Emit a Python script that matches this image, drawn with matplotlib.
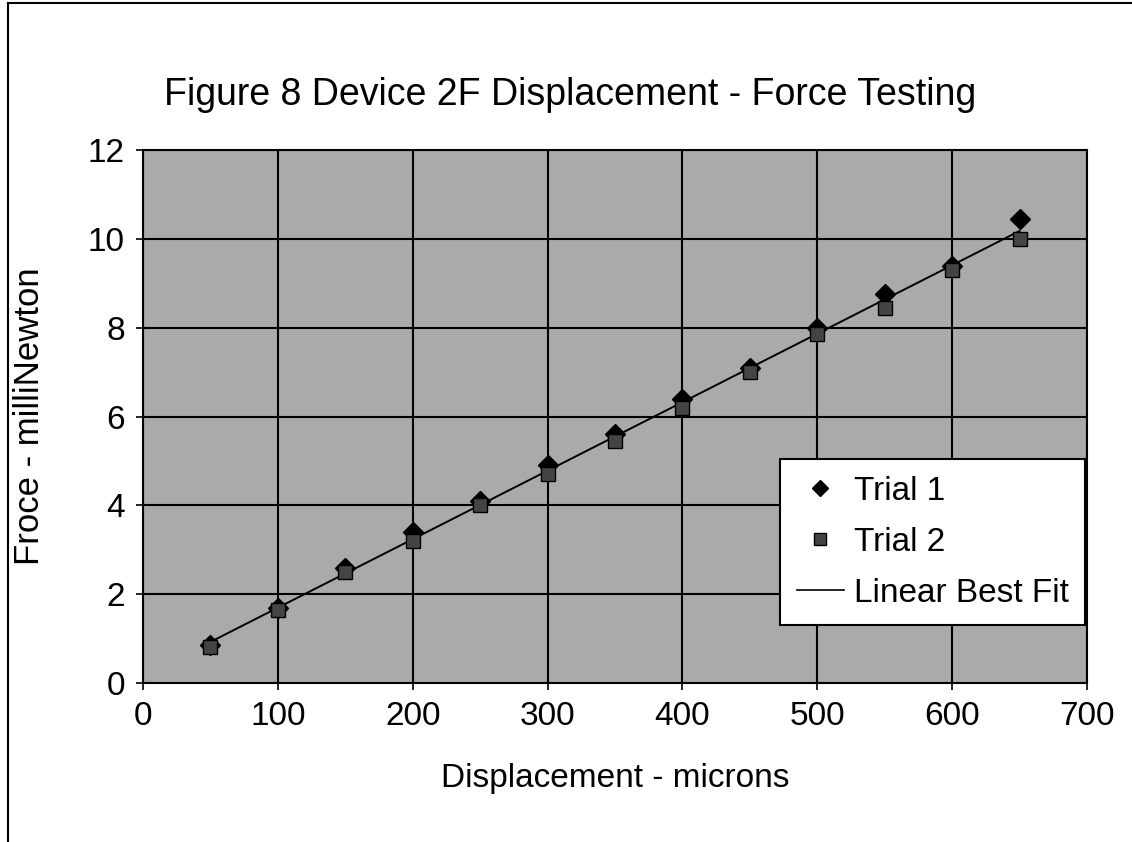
import numpy as np
import matplotlib.pyplot as plt
from matplotlib.lines import Line2D

plt.rcParams['font.family'] = ['Liberation Sans', 'DejaVu Sans']

displacement = [50, 100, 150, 200, 250, 300, 350, 400, 450, 500, 550, 600, 650]
trial1 = [0.85, 1.7, 2.6, 3.4, 4.1, 4.9, 5.6, 6.4, 7.1, 8.0, 8.75, 9.4, 10.45]
trial2 = [0.8, 1.65, 2.5, 3.2, 4.0, 4.7, 5.45, 6.2, 7.0, 7.85, 8.45, 9.3, 10.0]

x = np.array(displacement)
coef = np.polyfit(np.concatenate([x, x]), np.concatenate([trial1, trial2]), 1)
fit = np.polyval(coef, x)

fig = plt.figure(figsize=(11.32, 8.42), dpi=100)
ax = fig.add_axes([0.1263, 0.1888, 0.834, 0.633])
ax.set_facecolor('#aaaaaa')

ax.plot(x, trial1, linestyle='none', marker='D', markersize=10, color='black', label='Trial 1', zorder=3)
ax.plot(x, trial2, linestyle='none', marker='s', markersize=10, markerfacecolor='#444444',
        markeredgecolor='black', label='Trial 2', zorder=4)
ax.plot(x, fit, color='black', linewidth=1.4, label='Linear Best Fit', zorder=2)

ax.set_xlim(0, 700)
ax.set_ylim(0, 12)
ax.set_xticks(range(0, 701, 100))
ax.set_yticks(range(0, 13, 2))
ax.grid(True, color='black', linewidth=1.5)
ax.set_axisbelow(True)
for s in ax.spines.values():
    s.set_linewidth(1.5)
ax.tick_params(labelsize=24, length=5, width=1.2, pad=8)

ax.set_xlabel('Displacement - microns', fontsize=24, labelpad=22)
ax.set_ylabel('Froce - milliNewton', fontsize=25, labelpad=30)
fig.text(0.504, 0.887, 'Figure 8 Device 2F Displacement - Force Testing', fontsize=27, ha='center', va='center')

handles = [
    Line2D([], [], linestyle='none', marker='D', markersize=8, color='black'),
    Line2D([], [], linestyle='none', marker='s', markersize=8, markerfacecolor='#444444', markeredgecolor='black'),
    Line2D([], [], color='black', linewidth=1.2),
]
leg = ax.legend(handles, ['Trial 1', 'Trial 2', 'Linear Best Fit'], loc='lower right',
                bbox_to_anchor=(0.998, 0.108), fontsize=24, fancybox=False, framealpha=1,
                edgecolor='black', handlelength=1.4, handletextpad=0.3, borderpad=0.5,
                labelspacing=0.6, borderaxespad=0)
leg.get_frame().set_linewidth(1.5)

fig.add_artist(Line2D([0.007, 0.007], [0, 0.997], color='black', linewidth=1.5, transform=fig.transFigure))
fig.add_artist(Line2D([0.007, 1.0], [0.997, 0.997], color='black', linewidth=1.5, transform=fig.transFigure))

fig.savefig('out.png', dpi=100)
